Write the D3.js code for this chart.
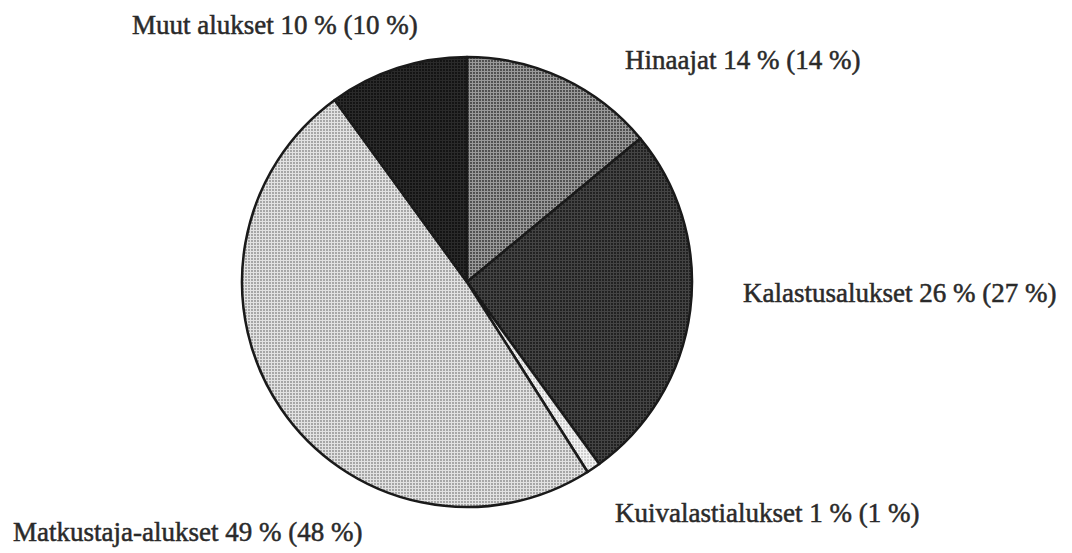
<!DOCTYPE html>
<meta charset="utf-8">
<style>
body { margin: 0; background: #fff; }
.label {
  font-family: "Liberation Serif", "DejaVu Serif", serif;
  font-size: 27px;
  fill: #2a2a2a;
  stroke: #2a2a2a;
  stroke-width: 0.5px;
}
.slice { stroke: #1a1a1a; stroke-width: 2.5px; stroke-linejoin: round; }
</style>
<html>
  <head>
    <script type="text/javascript" src="https://cdn.jsdelivr.net/npm/d3@7"></script>
  </head>
  <body>
    <script type="text/javascript">
// ship types, share 1st value and (value in parentheses)
var categories = ["Hinaajat", "Kalastusalukset", "Kuivalastialukset", "Matkustaja-alukset", "Muut alukset"];
var shares     = [14, 26, 1, 49, 10];
var sharesPrev = [14, 27, 1, 48, 10];

var width = 1072, height = 553
  , cx = 467, cy = 282, radius = 225;

// halftone-ish fills: background, dot colour
var fills = [
  {bg: "#9a9a9a", dot: "#2e2e2e"},
  {bg: "#444", dot: "#111"},
  {bg: "#f2f2f2", dot: "#bdbdbd"},
  {bg: "#e2e2e2", dot: "#8a8a8a"},
  {bg: "#2a2a2a", dot: "#080808"}
];

// where each label starts (left x, baseline y)
var labelAt = [[625, 69], [743, 302], [615, 522], [13, 541], [132, 34]];

var svg = d3.select("body").append("svg")
    .attr("width", width)
    .attr("height", height);

var defs = svg.append("defs");
fills.forEach(function(f, i) {
  var p = defs.append("pattern")
      .attr("id", "pat" + i)
      .attr("width", 3).attr("height", 3)
      .attr("patternUnits", "userSpaceOnUse");
  p.append("rect").attr("width", 3).attr("height", 3).attr("fill", f.bg);
  p.append("circle").attr("cx", 1).attr("cy", 1).attr("r", 0.9).attr("fill", f.dot);
});

var pie = d3.pie().sort(null).value(function(d) { return d; });
var arc = d3.arc().innerRadius(0).outerRadius(radius);

var g = svg.append("g").attr("transform", "translate(" + cx + "," + cy + ")");

g.selectAll("path")
  .data(pie(shares))
  .enter().append("path")
    .attr("class", "slice")
    .attr("d", arc)
    .attr("fill", function(d, i) { return "url(#pat" + i + ")"; });

svg.selectAll("text.label")
  .data(categories)
  .enter().append("text")
    .attr("class", "label")
    .attr("x", function(d, i) { return labelAt[i][0]; })
    .attr("y", function(d, i) { return labelAt[i][1]; })
    .text(function(d, i) { return d + " " + shares[i] + " % (" + sharesPrev[i] + " %)"; });
    </script>
  </body>
</html>
